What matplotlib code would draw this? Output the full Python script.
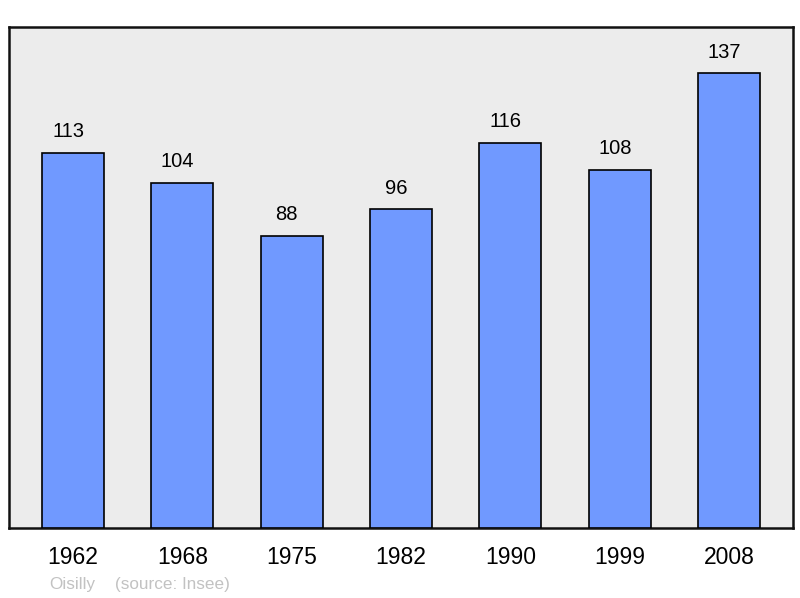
import matplotlib
matplotlib.use("Agg")
import matplotlib.pyplot as plt

years = ["1962", "1968", "1975", "1982", "1990", "1999", "2008"]
population = [113, 104, 88, 96, 116, 108, 137]

plt.rcParams['font.family'] = ['Liberation Sans', 'DejaVu Sans']

fig = plt.figure(figsize=(8, 5.98), dpi=100)
ax = fig.add_axes([9/800, 70/598, 784/800, 501/598])
ax.set_facecolor('#ececec')
x = list(range(len(years)))
ax.bar(x, population, width=0.567, color='#7099ff', edgecolor='black', linewidth=1.2, zorder=3)
for xi, v in zip(x, population):
    ax.text(xi - 0.045, v + 3.6, str(v), ha='center', va='bottom', fontsize=14.5, color='black')
ax.set_xlim(-0.585, len(years) - 1 + 0.585)
ax.set_ylim(0, 151)
ax.set_yticks([])
ax.set_xticks(x)
ax.set_xticklabels(years, fontsize=16.5)
for lbl in ax.get_xticklabels():
    pass
ax.tick_params(axis='x', length=0, pad=13)
for s in ax.spines.values():
    s.set_linewidth(1.8)
    s.set_color('#111111')
fig.text(49/800, 1 - 584/598, "Oisilly", fontsize=12.3, color='#c2c2c2', ha='left', va='center')
fig.text(115/800, 1 - 584/598, "(source: Insee)", fontsize=12.3, color='#c2c2c2', ha='left', va='center')
fig.savefig("out.png", dpi=100)
